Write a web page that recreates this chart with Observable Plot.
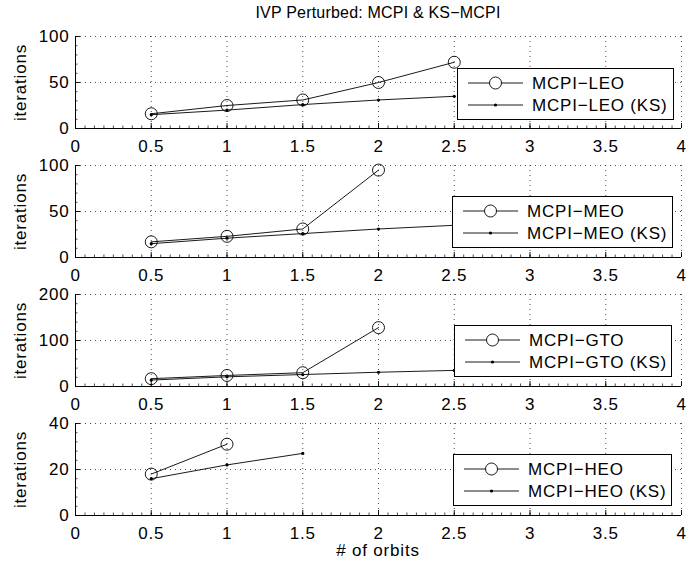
<!DOCTYPE html>
<html>
<head>
<meta charset="utf-8">
<script src="https://cdn.jsdelivr.net/npm/d3@7"></script>
<script src="https://cdn.jsdelivr.net/npm/@observablehq/plot@0.6"></script>
<style>
  html, body { margin: 0; padding: 0; background: #fff; }
  #wrap { position: relative; width: 686px; height: 569px; font-family: "Liberation Sans", Arial, sans-serif; overflow: hidden; }
  .title { position: absolute; top: 4px; left: 75px; width: 606px; text-align: center; font-size: 16px; letter-spacing: 0.2px; color: #000; }
  .xlabel { position: absolute; top: 541px; left: 75px; width: 606px; text-align: center; font-size: 17px; letter-spacing: 0.8px; color: #000; }
  svg text { letter-spacing: 0.8px; }
</style>
</head>
<body>
<div id="wrap"></div>
<script>
// ---- data ----
const titleText = "IVP Perturbed: MCPI & KS\u2212MCPI";
const xLabelText = "# of orbits";
const yLabelText = "iterations";
const xTicks = [0, 0.5, 1, 1.5, 2, 2.5, 3, 3.5, 4];

const orbits = [0.5, 1, 1.5, 2, 2.5];

const leo   = [16, 25, 31, 50, 72];
const leoKS = [15, 20, 26, 31, 35];
const meo   = [17, 23, 31, 95];
const meoKS = [15, 21, 26, 31, 35];
const gto   = [17, 24, 30, 128];
const gtoKS = [14, 21, 26, 31, 35];
const heo   = [18, 31];
const heoKS = [16, 22, 27];

const seriesNames = ["MCPI\u2212LEO", "MCPI\u2212MEO", "MCPI\u2212GTO", "MCPI\u2212HEO"];
const ksSuffix = " (KS)";
const yMax  = [100, 100, 200, 40];
const yStep = [50, 50, 100, 20];

// ---- layout ----
const axisTop = [36, 165, 294, 423];
const axisH = 92;
const marginTop = 10, marginBottom = 30, marginLeft = 75, marginRight = 5;
const legendBox = [
  {left: 457, top: 68,  w: 217},
  {left: 452, top: 196, w: 221},
  {left: 454, top: 325, w: 218},
  {left: 453, top: 454, w: 219}
];

const wrap = document.getElementById("wrap");

const t = document.createElement("div");
t.className = "title"; t.textContent = titleText; wrap.appendChild(t);
const xl = document.createElement("div");
xl.className = "xlabel"; xl.textContent = xLabelText; wrap.appendChild(xl);

const circSets = [leo, meo, gto, heo];
const ksSets = [leoKS, meoKS, gtoKS, heoKS];

function range(a, b, step) { const r = []; for (let v = a; v <= b + 1e-9; v += step) r.push(+v.toFixed(6)); return r; }

for (let i = 0; i < 4; i++) {
  const circ = circSets[i].map((v, j) => ({x: orbits[j], y: v}));
  const ks = ksSets[i].map((v, j) => ({x: orbits[j], y: v}));
  const yTicks = range(0, yMax[i], yStep[i]);
  const xMinor = range(0, 4, 0.5 / 8);
  const yMinor = range(0, yMax[i], yStep[i] / 5);
  const grid = {stroke: "#222", strokeWidth: 0.8, strokeDasharray: "1,4"};
  const chart = Plot.plot({
    width: 686,
    height: marginTop + axisH + marginBottom,
    marginTop, marginBottom, marginLeft, marginRight,
    style: {fontFamily: "Liberation Sans, Arial, sans-serif", fontSize: "17px", color: "#000", background: "transparent", overflow: "visible"},
    x: {domain: [0, 4]},
    y: {domain: [0, yMax[i]]},
    marks: [
      Plot.ruleX(xTicks.filter(v => v > 0), grid),
      Plot.ruleY(yTicks.filter(v => v > 0), grid),
      Plot.ruleX(xMinor, {y1: 0, y2: 0, insetTop: -2.5, stroke: "#000", strokeWidth: 0.7}),
      Plot.ruleY(yMinor, {x1: 0, x2: 0, insetRight: -2.5, stroke: "#000", strokeWidth: 0.7}),
      Plot.ruleX(xTicks, {y1: 0, y2: 0, insetTop: -5, stroke: "#000", strokeWidth: 0.9}),
      Plot.ruleY(yTicks, {x1: 0, x2: 0, insetRight: -5, stroke: "#000", strokeWidth: 0.9}),
      Plot.ruleY([0], {stroke: "#000", strokeWidth: 1}),
      Plot.ruleX([0], {stroke: "#000", strokeWidth: 1}),
      Plot.axisX({ticks: xTicks, tickSize: 0, tickPadding: 11, tickFormat: d => String(d), label: null, fontSize: 17}),
      Plot.axisY({ticks: yTicks, tickSize: 0, tickPadding: 6, tickFormat: d => String(d), label: yLabelText, labelAnchor: "center", labelArrow: "none", labelOffset: 62, fontSize: 17}),
      Plot.line(ks, {x: "x", y: "y", stroke: "#000", strokeWidth: 0.9}),
      Plot.dot(ks, {x: "x", y: "y", r: 1.6, fill: "#000", stroke: null}),
      Plot.line(circ, {x: "x", y: "y", stroke: "#000", strokeWidth: 0.9}),
      Plot.dot(circ, {x: "x", y: "y", r: 6, fill: "none", stroke: "#000", strokeWidth: 0.9})
    ]
  });
  chart.style.position = "absolute";
  chart.style.left = "0px";
  chart.style.top = (axisTop[i] - marginTop) + "px";
  wrap.appendChild(chart);

  // legend
  const lb = legendBox[i];
  const ns = "http://www.w3.org/2000/svg";
  const lg = document.createElementNS(ns, "svg");
  lg.setAttribute("width", lb.w); lg.setAttribute("height", 52);
  lg.style.position = "absolute"; lg.style.left = lb.left + "px"; lg.style.top = lb.top + "px";
  lg.setAttribute("font-family", "Liberation Sans, Arial, sans-serif");
  lg.setAttribute("font-size", "17");
  const add = (tag, attrs, text) => { const e = document.createElementNS(ns, tag); for (const k in attrs) e.setAttribute(k, attrs[k]); if (text) e.textContent = text; lg.appendChild(e); return e; };
  add("rect", {x: 0.5, y: 0.5, width: lb.w - 1, height: 51, fill: "#fff", stroke: "#000", "stroke-width": 1});
  const rows = [15, 37];
  add("line", {x1: 11, x2: 66, y1: rows[0], y2: rows[0], stroke: "#000", "stroke-width": 0.9});
  add("circle", {cx: 38.5, cy: rows[0], r: 6, fill: "#fff", stroke: "#000", "stroke-width": 0.9});
  add("text", {x: 75, y: rows[0], dy: "0.36em"}, seriesNames[i]);
  add("line", {x1: 11, x2: 66, y1: rows[1], y2: rows[1], stroke: "#000", "stroke-width": 0.9});
  add("circle", {cx: 38.5, cy: rows[1], r: 1.6, fill: "#000"});
  add("text", {x: 75, y: rows[1], dy: "0.36em"}, seriesNames[i] + ksSuffix);
  wrap.appendChild(lg);
}
</script>
</body>
</html>
